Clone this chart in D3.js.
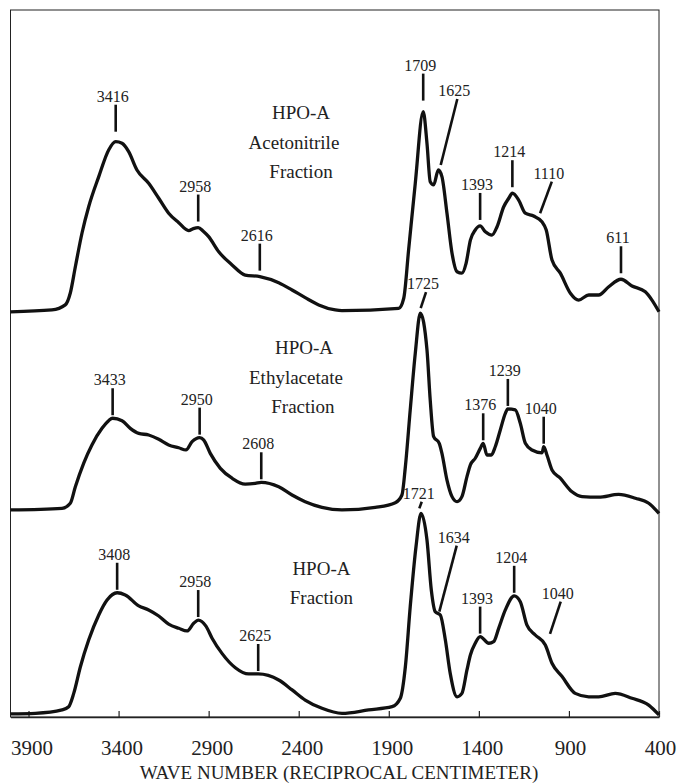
<!DOCTYPE html>
<html>
<head>
<meta charset="utf-8">
<script src="https://cdn.jsdelivr.net/npm/d3@7"></script>
<style>
  body { margin: 0; background: #fff; }
  svg text { font-family: "Liberation Serif", "DejaVu Serif", serif; fill: #222; }
</style>
</head>
<body>
<svg id="chart"></svg>
<script>
// spectra: [wave number (cm-1), absorbance (a.u.)]
var acetonitrile = [[4000,0.006],[3770,0.015],[3696,0.040],[3668,0.099],[3640,0.229],[3603,0.396],[3566,0.526],[3510,0.675],[3455,0.807],[3416,0.848],[3381,0.840],[3344,0.799],[3298,0.708],[3233,0.642],[3177,0.568],[3122,0.494],[3066,0.447],[3011,0.408],[2985,0.418],[2958,0.423],[2930,0.405],[2900,0.378],[2844,0.303],[2770,0.238],[2697,0.188],[2616,0.180],[2511,0.150],[2437,0.114],[2364,0.076],[2289,0.040],[2197,0.015],[2160,0.012],[1845,0.023],[1817,0.073],[1790,0.312],[1753,0.642],[1709,0.997],[1688,0.840],[1670,0.650],[1651,0.634],[1625,0.708],[1605,0.675],[1577,0.494],[1549,0.296],[1521,0.204],[1494,0.197],[1471,0.246],[1447,0.361],[1420,0.411],[1393,0.431],[1364,0.402],[1327,0.386],[1299,0.427],[1262,0.526],[1234,0.568],[1214,0.593],[1179,0.559],[1142,0.494],[1096,0.480],[1050,0.452],[1026,0.411],[994,0.262],[947,0.196],[892,0.098],[846,0.064],[790,0.089],[735,0.089],[679,0.130],[611,0.167],[550,0.134],[476,0.105],[439,0.064],[400,0.006]];

var ethylacetate = [[4000,0.025],[3714,0.033],[3668,0.058],[3640,0.140],[3594,0.256],[3548,0.347],[3492,0.429],[3455,0.467],[3433,0.479],[3381,0.467],[3335,0.429],[3288,0.404],[3233,0.396],[3177,0.375],[3122,0.347],[3066,0.333],[3026,0.322],[2992,0.363],[2950,0.383],[2927,0.371],[2891,0.305],[2835,0.231],[2770,0.182],[2697,0.153],[2641,0.157],[2608,0.162],[2511,0.140],[2437,0.099],[2364,0.066],[2271,0.038],[2160,0.025],[1975,0.038],[1864,0.061],[1827,0.099],[1808,0.239],[1781,0.520],[1753,0.800],[1725,0.999],[1688,0.817],[1670,0.569],[1651,0.388],[1620,0.355],[1605,0.305],[1577,0.173],[1549,0.091],[1521,0.066],[1494,0.091],[1466,0.190],[1447,0.248],[1420,0.281],[1392,0.330],[1376,0.355],[1355,0.297],[1331,0.297],[1309,0.338],[1281,0.421],[1253,0.503],[1239,0.525],[1198,0.520],[1170,0.454],[1142,0.355],[1105,0.322],[1049,0.308],[1040,0.338],[1022,0.297],[994,0.223],[948,0.182],[883,0.115],[827,0.091],[735,0.088],[624,0.102],[531,0.083],[457,0.058],[400,0.008]];

var hpoa = [[4000,0.015],[3862,0.018],[3714,0.035],[3677,0.051],[3649,0.117],[3612,0.249],[3566,0.381],[3510,0.505],[3464,0.579],[3408,0.615],[3363,0.604],[3288,0.550],[3233,0.530],[3177,0.500],[3122,0.460],[3066,0.439],[3020,0.426],[2983,0.464],[2958,0.480],[2915,0.450],[2881,0.390],[2826,0.315],[2752,0.244],[2678,0.213],[2625,0.213],[2511,0.183],[2437,0.134],[2364,0.084],[2271,0.043],[2160,0.018],[2012,0.035],[1882,0.051],[1836,0.093],[1808,0.249],[1781,0.546],[1749,0.843],[1721,1.008],[1688,0.876],[1664,0.629],[1642,0.521],[1614,0.505],[1586,0.381],[1559,0.216],[1521,0.100],[1494,0.117],[1466,0.233],[1447,0.307],[1420,0.365],[1393,0.398],[1345,0.365],[1318,0.373],[1290,0.439],[1253,0.530],[1204,0.600],[1170,0.571],[1133,0.455],[1087,0.406],[1031,0.356],[994,0.266],[938,0.200],[865,0.117],[790,0.100],[735,0.100],[643,0.117],[550,0.093],[457,0.059],[400,0.010]];

// labelled bands
var acetonitrilePeaks = [3416, 2958, 2616, 1709, 1625, 1393, 1214, 1110, 611];
var ethylacetatePeaks = [3433, 2950, 2608, 1725, 1376, 1239, 1040];
var hpoaPeaks = [3408, 2958, 2625, 1721, 1634, 1393, 1204, 1040];

var acetonitrileName = ["HPO-A", "Acetonitrile", "Fraction"];
var ethylacetateName = ["HPO-A", "Ethylacetate", "Fraction"];
var hpoaName = ["HPO-A", "Fraction"];

var xTicks = [3900, 3400, 2900, 2400, 1900, 1400, 900, 400];

// vertical stacking of the three traces
var offsets = [2, 1, 0];

var spectra = [
  { data: acetonitrile, peaks: acetonitrilePeaks, name: acetonitrileName },
  { data: ethylacetate, peaks: ethylacetatePeaks, name: ethylacetateName },
  { data: hpoa, peaks: hpoaPeaks, name: hpoaName }
];

// where the sample names sit (wave number, absorbance above own baseline) and small x nudges per line
var nameLayout = [
  { w: 2393, v: 0.96, dx: [1, -6, 1] },
  { w: 2382, v: 0.797, dx: [2, -6, 1] },
  { w: 2274, v: 0.703, dx: [0, 0] }
];

// leader lines that are not plain vertical ticks (px)
var leaders = {
  "0:3416": { gap: 10 },
  "0:1709": { gap: 11 },
  "0:1625": { bdx: 2.4, gap: 5, dx: 16.6, dy: -66 },
  "0:1110": { bdx: 9, gap: 2, dx: 11.7, dy: -31.6 },
  "1:1725": { bdx: 0.4, gap: 5, dx: 5.3, dy: -16 },
  "2:1721": { bdx: -1.7, gap: 5, dx: 2.4, dy: -6.6 },
  "2:1634": { bdx: 2.6, gap: 1, dx: 17.4, dy: -66 },
  "2:1040": { bdx: 6.3, gap: 9.5, dx: 10.7, dy: -32.3 }
};

var serif = "'Liberation Serif', 'DejaVu Serif', serif";
var width = 680, height = 784;
var plot = { left: 10.5, right: 659, top: 10, bottom: 717 };

var x = d3.scaleLinear().domain([4000, 400]).range([plot.left, plot.right]);
var y = d3.scaleLinear().domain([0, 3.5]).range([plot.bottom, plot.top]);

var svg = d3.select("#chart")
    .attr("width", width)
    .attr("height", height)
    .attr("font-family", serif);

// linear read of a trace at a given wave number
function valueAt(data, w) {
  for (var i = 0; i < data.length - 1; i++) {
    var a = data[i], b = data[i + 1];
    if (w <= a[0] && w >= b[0]) {
      var t = (a[0] - w) / (a[0] - b[0]);
      return a[1] + t * (b[1] - a[1]);
    }
  }
  return 0;
}

// frame
svg.append("rect")
    .attr("x", plot.left)
    .attr("y", plot.top)
    .attr("width", plot.right - plot.left)
    .attr("height", plot.bottom - plot.top)
    .attr("fill", "none")
    .attr("stroke", "#222")
    .attr("stroke-width", 1);

// bottom axis, ticks pointing inwards
var xAxis = d3.axisBottom(x)
    .tickValues(xTicks)
    .tickFormat(d3.format("d"))
    .tickSizeInner(-6)
    .tickSizeOuter(0);
var gx = svg.append("g")
    .attr("transform", "translate(0," + plot.bottom + ")")
    .call(xAxis)
    .attr("font-family", serif)
    .attr("font-size", 21);
gx.select(".domain").attr("stroke", "#222").attr("stroke-width", 1.6);
gx.selectAll(".tick line").attr("stroke", "#222").attr("stroke-width", 1.2);
gx.selectAll(".tick text")
    .attr("y", 23)
    .attr("dx", function(d) { return d >= 1000 ? 3 : 1; })
    .style("font-size", "21px")
    .attr("fill", "#222");

svg.append("text")
    .attr("x", 339)
    .attr("y", 779)
    .attr("text-anchor", "middle")
    .style("font-size", "19px")
    .text("WAVE NUMBER (RECIPROCAL CENTIMETER)");

var line = d3.line()
    .x(function(d) { return x(d[0]); })
    .curve(d3.curveMonotoneX);

spectra.forEach(function(s, i) {
  var off = offsets[i];

  svg.append("path")
      .datum(s.data)
      .attr("fill", "none")
      .attr("stroke", "#111")
      .attr("stroke-width", 3.3)
      .attr("stroke-linejoin", "round")
      .attr("d", line.y(function(d) { return y(d[1] + off); }));

  // band labels with leader lines
  s.peaks.forEach(function(p) {
    var opt = leaders[i + ":" + p] || {};
    var gap = opt.gap !== undefined ? opt.gap : (i === 0 ? 6 : 3);
    var bx = x(p) + (opt.bdx || 0);
    var by = y(valueAt(s.data, p) + off) - gap;
    var tx = bx + (opt.dx || 0);
    var ty = by + (opt.dy !== undefined ? opt.dy : -27);

    svg.append("line")
        .attr("x1", bx).attr("y1", by)
        .attr("x2", tx).attr("y2", ty)
        .attr("stroke", "#111")
        .attr("stroke-width", 2.6);

    svg.append("text")
        .attr("x", tx - 3)
        .attr("y", ty - 3)
        .attr("text-anchor", "middle")
        .style("font-size", "16px")
        .text(p);
  });

  // sample name
  var nl = nameLayout[i];
  s.name.forEach(function(t, k) {
    svg.append("text")
        .attr("x", x(nl.w) + nl.dx[k])
        .attr("y", y(nl.v + off) + k * 29.5)
        .attr("text-anchor", "middle")
        .style("font-size", "19px")
        .text(t);
  });
});
</script>
</body>
</html>
